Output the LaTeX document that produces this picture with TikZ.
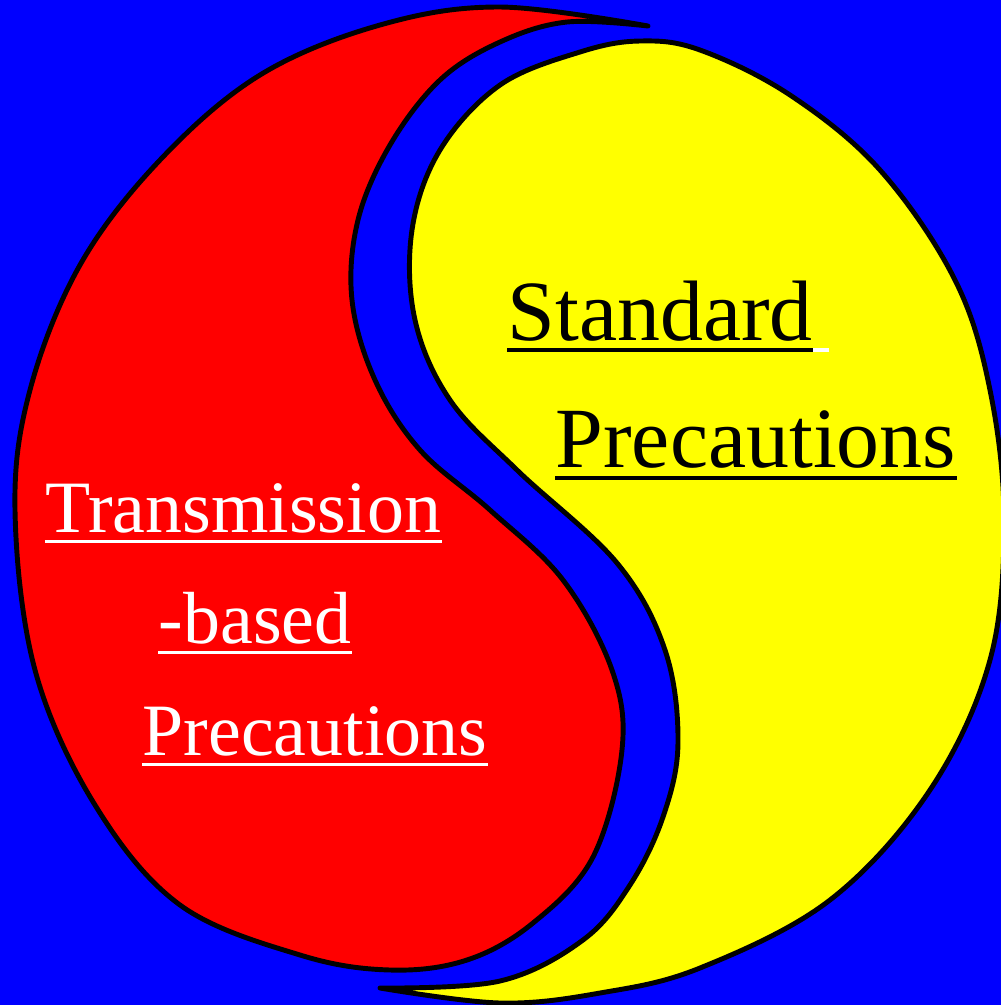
\documentclass[tikz,border=0pt]{standalone}
\usepackage{fontspec}
\setmainfont{Liberation Serif}
\newfontfamily\serifa{Liberation Serif}
\usetikzlibrary{positioning, calc}

\definecolor{azul}{RGB}{0,0,255}
\definecolor{vermelho}{RGB}{255,0,0}
\definecolor{amarelo}{RGB}{255,255,0}

\tikzset{
  zona/.style={draw=black, line width=1.4pt, line join=round},
  rotulo/.style={inner sep=0pt, anchor=base west},
  grande/.style={rotulo, text=black, font=\serifa\fontsize{24.4}{29}\selectfont},
  pequeno/.style={rotulo, text=white, font=\serifa\fontsize{21}{25}\selectfont},
  sublinha/.style={line width=1pt}
}

\begin{document}
\begin{tikzpicture}[x=0.01cm, y=-0.01cm]
    % Fundo azul
    \fill[azul] (0,0) rectangle (1001,1005);
    \useasboundingbox (0,0) rectangle (1001,1005);
    \clip (0,0) rectangle (1001,1005);
    % Metade vermelha
    \filldraw[zona, fill=vermelho] plot[smooth, tension=0.6] coordinates {
      (648,26) (500,7) (380,25) (260,75) (160,160) (80,265) (30,390)
      (15,510) (35,670) (95,805) (180,905) (300,955) (390,970)
      (467,960) (533,923) (593,857) (622,750) (612,670) (563,580)
      (490,510) (420,450) (375,380) (352,300) (358,220) (390,145)
      (440,80) (500,42) (567,22) (648,26)} -- cycle;
    % Metade amarela
    \filldraw[zona, fill=amarelo] plot[smooth, tension=0.6] coordinates {
      (380,988) (500,1003) (600,993) (700,968) (830,900) (930,790)
      (990,660) (1004,520) (990,390) (955,280) (880,170) (790,95)
      (700,50) (640,41) (580,52) (500,85) (440,150) (412,230)
      (415,320) (450,400) (517,470) (617,563) (665,650) (678,743)
      (663,817) (630,885) (583,940) (500,981) (380,988)} -- cycle;
    % Textos
    \node[grande] (std) at (507,340) {Standard};
    \node[grande] (prec) at (555,467) {Precautions};
    \node[pequeno] (trans) at (45,532) {Transmission};
    \node[pequeno] (based) at (158,643) {-based};
    \node[pequeno] (tprec) at (142,755) {Precautions};
    % Sublinhados
    \draw[sublinha, black] ([yshift=-0.1cm]std.base west) -- ([yshift=-0.1cm]std.base east);
    \draw[sublinha, white] ([yshift=-0.1cm]std.base east) -- ++(16,0);
    \draw[sublinha, black] ([yshift=-0.11cm]prec.base west) -- ([yshift=-0.11cm]prec.base east);
    \foreach \n in {trans, based, tprec}
      \draw[sublinha, white] ([yshift=-0.095cm]\n.base west) -- ([yshift=-0.095cm]\n.base east);
\end{tikzpicture}
\end{document}
